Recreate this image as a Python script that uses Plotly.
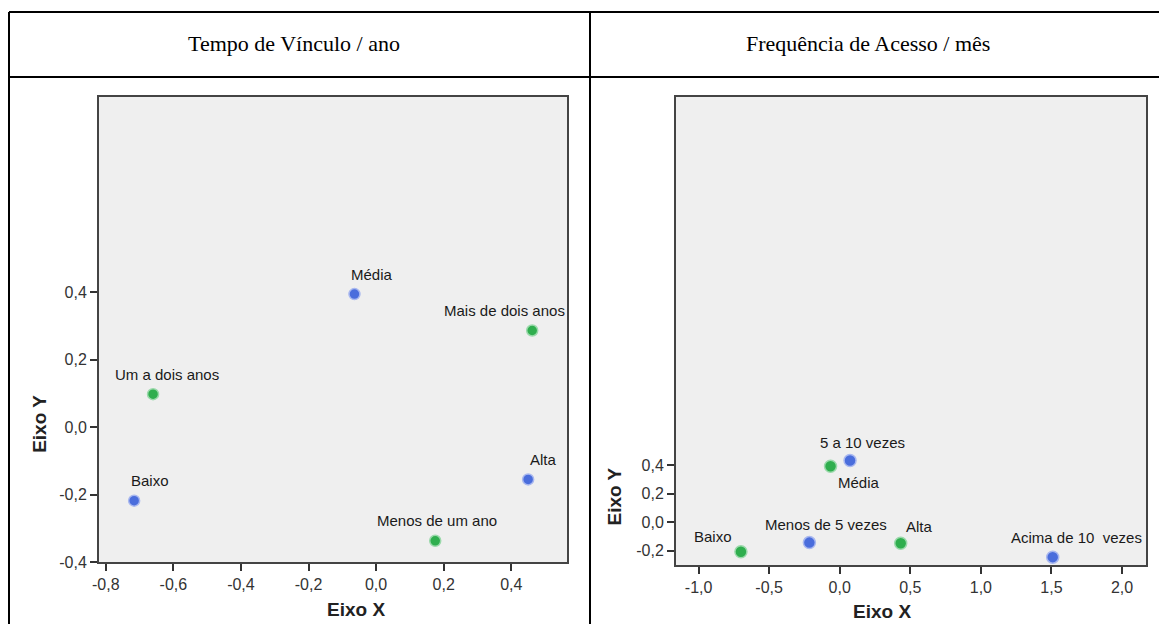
import plotly.graph_objects as go

W, H = 1159, 624

# ---------------- data ----------------
# Left panel: Tempo de Vínculo / ano
left_blue_labels = ["Média", "Alta", "Baixo"]
left_blue_x = [-0.064, 0.450, -0.716]
left_blue_y = [0.395, -0.155, -0.218]

left_green_labels = ["Mais de dois anos", "Um a dois anos", "Menos de um ano"]
left_green_x = [0.462, -0.660, 0.175]
left_green_y = [0.287, 0.098, -0.337]

left_xticks = [-0.8, -0.6, -0.4, -0.2, 0.0, 0.2, 0.4]
left_xticklabels = ["-0,8", "-0,6", "-0,4", "-0,2", "0,0", "0,2", "0,4"]
left_yticks = [-0.4, -0.2, 0.0, 0.2, 0.4]
left_yticklabels = ["-0,4", "-0,2", "0,0", "0,2", "0,4"]

# Right panel: Frequência de Acesso / mês
right_blue_labels = ["5 a 10 vezes", "Menos de 5 vezes", "Acima de 10  vezes"]
right_blue_x = [0.073, -0.215, 1.509]
right_blue_y = [0.432, -0.143, -0.245]

right_green_labels = ["Média", "Alta", "Baixo"]
right_green_x = [-0.065, 0.432, -0.700]
right_green_y = [0.392, -0.147, -0.207]

right_xticks = [-1.0, -0.5, 0.0, 0.5, 1.0, 1.5, 2.0]
right_xticklabels = ["-1,0", "-0,5", "0,0", "0,5", "1,0", "1,5", "2,0"]
right_yticks = [-0.2, 0.0, 0.2, 0.4]
right_yticklabels = ["-0,2", "0,0", "0,2", "0,4"]

titles = ["Tempo de Vínculo / ano", "Frequência de Acesso / mês"]

# ---------------- style ----------------
BLUE = "#4a6ddc"
BLUE_EDGE = "#a9b8ef"
GREEN = "#2fae4e"
GREEN_EDGE = "#9bd9ab"
LABEL_FONT = dict(family="Liberation Sans, Arial", size=15, color="#1a1a1a")
TICK_FONT = dict(family="Liberation Sans, Arial", size=16, color="#333333")
AXTITLE_FONT = dict(family="Liberation Sans, Arial", size=19, color="#222222")
TITLE_FONT = dict(family="Liberation Serif, Times New Roman", size=22, color="black")

# label placement (anchor, xshift px, yshift px) -- style only
left_blue_pos = [("left", -5, 20), ("left", 0, 20), ("left", -5, 20)]
left_green_pos = [("right", 35, 20), ("left", -40, 20), ("center", 2, 20)]
right_blue_pos = [("left", -32, 18), ("center", 17, 18), ("right", 91, 20)]
right_green_pos = [("left", 5, -16), ("left", 3, 17), ("right", -7, 15)]


def px_x(p):
    return p / W


def px_y(p):
    return 1 - p / H


fig = go.Figure()


def add_points(xs, ys, color, edge, size, xa, ya):
    fig.add_trace(go.Scatter(
        x=xs, y=ys, mode="markers", xaxis=xa, yaxis=ya,
        marker=dict(color=color, size=size, line=dict(color=edge, width=1.5)),
        showlegend=False, hoverinfo="skip",
    ))


add_points(left_blue_x, left_blue_y, BLUE, BLUE_EDGE, 11, "x", "y")
add_points(left_green_x, left_green_y, GREEN, GREEN_EDGE, 11, "x", "y")
add_points(right_blue_x, right_blue_y, BLUE, BLUE_EDGE, 12, "x2", "y2")
add_points(right_green_x, right_green_y, GREEN, GREEN_EDGE, 12, "x2", "y2")

annotations = []


def add_labels(labels, xs, ys, pos, xr, yr):
    for lab, x, y, (anc, dx, dy) in zip(labels, xs, ys, pos):
        annotations.append(dict(
            text=lab, x=x, y=y, xref=xr, yref=yr, showarrow=False,
            xanchor=anc, yanchor="middle", xshift=dx, yshift=dy, font=LABEL_FONT,
        ))


add_labels(left_blue_labels, left_blue_x, left_blue_y, left_blue_pos, "x", "y")
add_labels(left_green_labels, left_green_x, left_green_y, left_green_pos, "x", "y")
add_labels(right_blue_labels, right_blue_x, right_blue_y, right_blue_pos, "x2", "y2")
add_labels(right_green_labels, right_green_x, right_green_y, right_green_pos, "x2", "y2")

# panel titles
for t, cx in zip(titles, [294, 868]):
    annotations.append(dict(text=t, x=px_x(cx), y=px_y(44), xref="paper", yref="paper",
                            xanchor="center", yanchor="middle", showarrow=False, font=TITLE_FONT))

# axis titles
annotations.append(dict(text="<b>Eixo X</b>", x=-0.06, y=0, xref="x", yref="y domain",
                        xanchor="center", yanchor="middle", yshift=-47, showarrow=False, font=AXTITLE_FONT))
annotations.append(dict(text="<b>Eixo X</b>", x=0.3, y=0, xref="x2", yref="y2 domain",
                        xanchor="center", yanchor="middle", yshift=-46, showarrow=False, font=AXTITLE_FONT))
annotations.append(dict(text="<b>Eixo Y</b>", x=0, y=0.01, xref="x domain", yref="y",
                        xanchor="center", yanchor="middle", xshift=-59, textangle=-90,
                        showarrow=False, font=AXTITLE_FONT))
annotations.append(dict(text="<b>Eixo Y</b>", x=0, y=0.18, xref="x2 domain", yref="y2",
                        xanchor="center", yanchor="middle", xshift=-61, textangle=-90,
                        showarrow=False, font=AXTITLE_FONT))

axis_common = dict(
    showline=True, mirror=True, linecolor="#444444", linewidth=2,
    showgrid=False, zeroline=False, ticks="outside", ticklen=7, tickwidth=2,
    tickcolor="#333333", tickfont=TICK_FONT, fixedrange=True, automargin=False,
)

fig.update_layout(
    width=W, height=H, autosize=False,
    margin=dict(l=0, r=0, t=0, b=0, pad=0, autoexpand=False),
    showlegend=False,
    paper_bgcolor="white",
    plot_bgcolor="#efefef",
    xaxis=dict(domain=[px_x(99), px_x(567)], range=[-0.82, 0.565],
               tickvals=left_xticks, ticktext=left_xticklabels, anchor="y", **axis_common),
    yaxis=dict(domain=[px_y(562), px_y(97)], range=[-0.4, 0.98],
               tickvals=left_yticks, ticktext=left_yticklabels, anchor="x", **axis_common),
    xaxis2=dict(domain=[px_x(676), px_x(1146)], range=[-1.16, 2.17],
                tickvals=right_xticks, ticktext=right_xticklabels, anchor="y2", **axis_common),
    yaxis2=dict(domain=[px_y(565), px_y(97)], range=[-0.3, 2.98],
                tickvals=right_yticks, ticktext=right_yticklabels, anchor="x2", **axis_common),
    annotations=annotations,
)

# table lines
line = dict(color="black", width=2)
shapes = [
    dict(type="line", xref="paper", yref="paper", x0=px_x(9), x1=1.02, y0=px_y(12), y1=px_y(12), line=line),
    dict(type="line", xref="paper", yref="paper", x0=px_x(9), x1=1.02, y0=px_y(77), y1=px_y(77), line=line),
    dict(type="line", xref="paper", yref="paper", x0=px_x(9), x1=px_x(9), y0=px_y(12), y1=-0.05, line=line),
    dict(type="line", xref="paper", yref="paper", x0=px_x(590), x1=px_x(590), y0=px_y(12), y1=-0.05, line=line),
]
fig.update_layout(shapes=shapes)

fig.write_html(
    "out.html",
    config={"displayModeBar": False, "staticPlot": True},
    post_script="document.body.style.margin='0px';document.body.style.overflow='hidden';",
)
